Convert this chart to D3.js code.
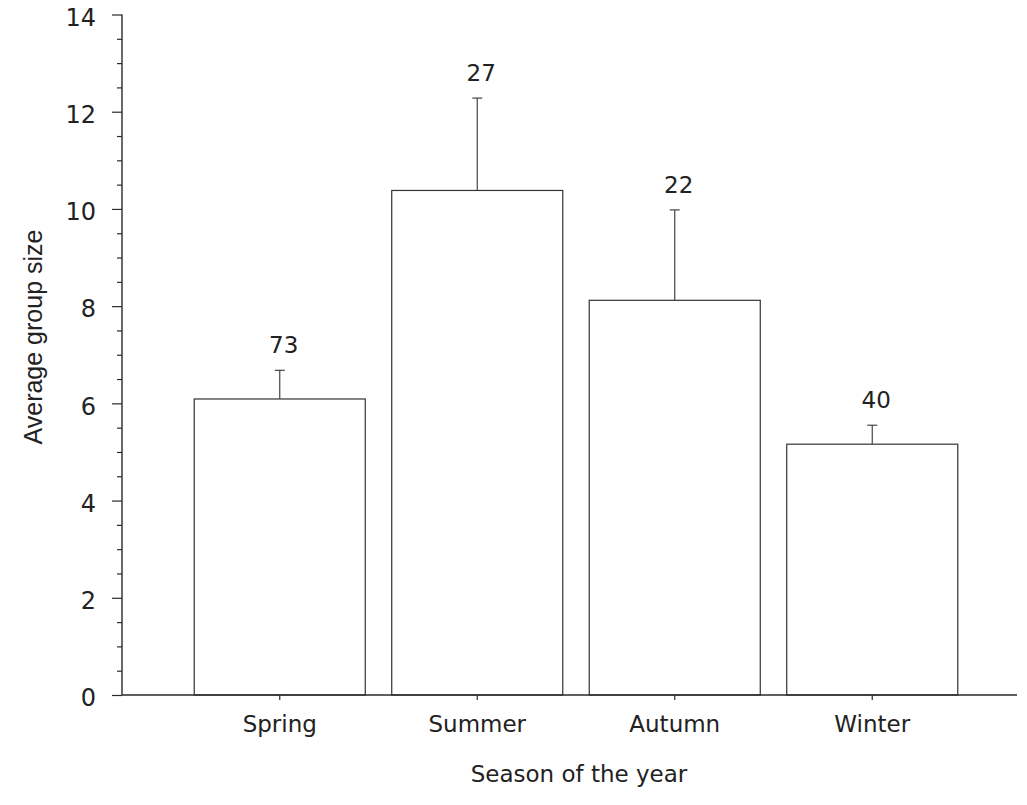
<!DOCTYPE html>
<html>
<head>
<meta charset="utf-8">
<script src="https://cdn.jsdelivr.net/npm/d3@7"></script>
<style>
  html, body { margin: 0; padding: 0; background: #fff; }
  svg { display: block; }
  .num { font-family: "DejaVu Sans", Verdana, sans-serif; fill: #222; }
  .ylab { font-family: "Liberation Sans", Arial, sans-serif; fill: #222; }
</style>
</head>
<body>
<svg id="chart" width="1027" height="805"></svg>
<script>
// Seasonal average group size with error bars and sample sizes
const seasons = ["Spring", "Summer", "Autumn", "Winter"];
const meanSize = [6.09, 10.38, 8.12, 5.16];
const errUpper = [6.68, 12.28, 9.98, 5.55];
const sampleN = [73, 27, 22, 40];
const yTickValues = [0, 2, 4, 6, 8, 10, 12, 14];

const svg = d3.select("#chart");
const axisColor = "#2a2a2a";

const y = d3.scaleLinear().domain([0, 14]).range([695, 14.5]);
const x = d3.scaleBand()
  .domain(seasons)
  .range([181, 971])
  .paddingInner(0.134)
  .paddingOuter(0.067);

// Bars
svg.append("g").selectAll("rect")
  .data(seasons)
  .join("rect")
  .attr("x", (d) => x(d))
  .attr("y", (d, i) => y(meanSize[i]))
  .attr("width", x.bandwidth())
  .attr("height", (d, i) => y(0) - y(meanSize[i]))
  .attr("fill", "#fff")
  .attr("stroke", "#333")
  .attr("stroke-width", 1.2);

// Error bars (upper only) with caps
const errG = svg.append("g").attr("stroke", "#444").attr("stroke-width", 1.2);
seasons.forEach((s, i) => {
  const cx = x(s) + x.bandwidth() / 2;
  errG.append("line")
    .attr("x1", cx).attr("x2", cx)
    .attr("y1", y(meanSize[i])).attr("y2", y(errUpper[i]));
  errG.append("line")
    .attr("x1", cx - 5).attr("x2", cx + 5)
    .attr("y1", y(errUpper[i])).attr("y2", y(errUpper[i]));
});

// Sample-size labels above the error bars
svg.append("g").selectAll("text")
  .data(seasons)
  .join("text")
  .attr("class", "num")
  .attr("x", (d) => x(d) + x.bandwidth() / 2 + 4)
  .attr("y", (d, i) => y(errUpper[i]) - 17)
  .attr("text-anchor", "middle")
  .attr("font-size", 23)
  .text((d, i) => sampleN[i]);

// Y axis with major and minor ticks
const yMajor = d3.axisLeft(y).tickValues(yTickValues).tickSize(10).tickPadding(16).tickFormat(d3.format("d"));
const minorVals = d3.range(0, 14.01, 0.5).filter((v) => v % 2 !== 0);
const yMinor = d3.axisLeft(y).tickValues(minorVals).tickSize(5).tickFormat("");

const gy = svg.append("g").attr("transform", "translate(122,0)").call(yMajor);
gy.select(".domain").remove();
gy.selectAll(".tick line").attr("stroke", axisColor).attr("stroke-width", 1.2);
gy.selectAll(".tick text")
  .attr("class", "num")
  .attr("font-size", 24)
  .attr("dy", "0.45em")
  .attr("fill", "#222");

const gym = svg.append("g").attr("transform", "translate(122,0)").call(yMinor);
gym.select(".domain").remove();
gym.selectAll(".tick line").attr("stroke", axisColor).attr("stroke-width", 1.2);

svg.append("line")
  .attr("x1", 122).attr("x2", 122)
  .attr("y1", y(14)).attr("y2", y(0))
  .attr("stroke", axisColor).attr("stroke-width", 1.4);

// X axis
const xAxis = d3.axisBottom(x).tickSize(5).tickPadding(16).tickSizeOuter(0);
const gx = svg.append("g").attr("transform", "translate(0,695)").call(xAxis);
gx.select(".domain").remove();
gx.selectAll(".tick line").attr("stroke", axisColor).attr("stroke-width", 1.2);
gx.selectAll(".tick text")
  .attr("class", "num")
  .attr("font-size", 23)
  .attr("fill", "#222");

svg.append("line")
  .attr("x1", 122).attr("x2", 1017)
  .attr("y1", 695).attr("y2", 695)
  .attr("stroke", axisColor).attr("stroke-width", 1.4);

// Axis titles
svg.append("text")
  .attr("class", "num")
  .attr("x", 579).attr("y", 782)
  .attr("text-anchor", "middle")
  .attr("font-size", 23)
  .text("Season of the year");

svg.append("text")
  .attr("class", "ylab")
  .attr("transform", "translate(42,337) rotate(-90)")
  .attr("text-anchor", "middle")
  .attr("font-size", 25)
  .text("Average group size");
</script>
</body>
</html>
